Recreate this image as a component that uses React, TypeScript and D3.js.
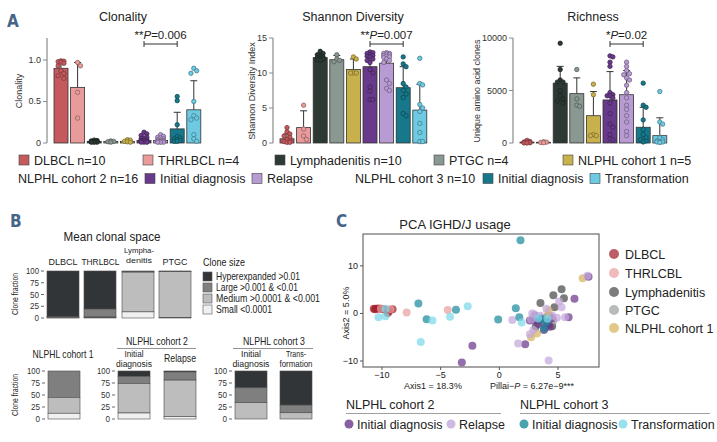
import React from 'react';
import * as d3 from 'd3';

const FONT = "'Liberation Sans', Arial, Helvetica, sans-serif";
const LETTER_FONT = "'Liberation Sans Narrow', 'DejaVu Sans Condensed', 'Liberation Sans', sans-serif";
const LETTER_COLOR = '#46658a';

// ---------------- Panel A data ----------------
const groupNames = ['DLBCL', 'THRLBCL', 'Lymphadenitis', 'PTGC', 'NLPHL cohort 1', 'NLPHL2 Initial diagnosis', 'NLPHL2 Relapse', 'NLPHL3 Initial diagnosis', 'NLPHL3 Transformation'];
const groupColors = ['#c45a5e', '#e89b9a', '#2c3a33', '#899891', '#c8b04c', '#693a8b', '#b89bd2', '#16788a', '#6dcae2'];

const clonalityMean = [0.9, 0.67, 0.02, 0.02, 0.02, 0.03, 0.03, 0.17, 0.4];
const clonalitySdTop = [0.97, 0.97, 0.03, 0.025, 0.03, 0.06, 0.055, 0.37, 0.75];
const clonalityPoints = [
  [0.99, 0.985, 0.98, 0.975, 0.96, 0.93, 0.87, 0.84, 0.81, 0.78],
  [0.97, 0.93, 0.61, 0.3],
  [0.035, 0.03, 0.025, 0.02, 0.02, 0.015, 0.015, 0.01, 0.01, 0.01],
  [0.025, 0.02, 0.015, 0.01],
  [0.04, 0.035, 0.02, 0.015, 0.01],
  [0.13, 0.11, 0.09, 0.07, 0.06, 0.05, 0.04, 0.035, 0.03, 0.025, 0.02, 0.02, 0.015, 0.01, 0.01, 0.01],
  [0.1, 0.08, 0.07, 0.06, 0.05, 0.04, 0.035, 0.03, 0.025, 0.02, 0.02, 0.015, 0.015, 0.01, 0.01, 0.01],
  [0.56, 0.51, 0.22, 0.08, 0.06, 0.05, 0.04, 0.03, 0.02, 0.02],
  [0.9, 0.87, 0.84, 0.5, 0.33, 0.3, 0.28, 0.1, 0.05, 0.02],
];

const shannonMean = [0.6, 2.2, 12.2, 11.9, 10.5, 10.9, 11.4, 7.9, 4.7];
const shannonSdTop = [1.3, 4.6, 12.8, 12.5, 12.0, 12.9, 12.9, 10.9, 8.4];
const shannonPoints = [
  [2.2, 1.6, 1.3, 1.0, 0.8, 0.5, 0.3, 0.2, 0.1, 0.1],
  [5.4, 2.0, 1.0, 0.5],
  [13.1, 12.8, 12.6, 12.4, 12.3, 12.2, 12.1, 12.0, 11.9, 11.8],
  [12.6, 12.0, 11.8, 11.6],
  [12.3, 12.0, 10.0, 10.0, 10.0],
  [13.0, 12.9, 12.8, 12.6, 12.5, 12.4, 12.3, 12.0, 11.8, 11.5, 10.5, 10.0, 8.0, 7.4, 6.2, 6.2],
  [12.9, 12.8, 12.8, 12.7, 12.6, 12.5, 12.4, 12.3, 12.2, 12.0, 11.8, 11.5, 9.0, 8.5, 7.8, 7.5],
  [12.3, 11.3, 10.9, 8.5, 8.0, 7.5, 7.0, 6.5, 4.2, 3.9],
  [12.1, 8.5, 8.3, 5.5, 5.0, 4.5, 2.8, 1.5, 0.2, 0.2],
];

const richnessMean = [90, 70, 5700, 4700, 2600, 4100, 4600, 1500, 700];
const richnessSdTop = [180, 130, 7300, 6200, 4900, 6800, 6900, 3400, 2400];
const richnessPoints = [
  [250, 150, 100, 80, 60, 40, 30, 20, 10, 10],
  [120, 80, 50, 30],
  [9500, 7000, 6000, 5800, 5800, 5000, 4500, 4200, 4000, 3800],
  [7000, 4200, 3600, 3500],
  [5600, 4600, 800, 700, 700],
  [8300, 8200, 7700, 7300, 4800, 4600, 4500, 4500, 4300, 3800, 2800, 1800, 1500, 800, 400, 300],
  [7700, 7300, 6900, 6600, 6500, 6200, 6000, 5500, 4800, 4300, 3600, 3200, 2600, 2000, 1100, 700],
  [5700, 3600, 3400, 2200, 1300, 800, 500, 300, 200, 100],
  [4900, 2000, 1800, 500, 300, 200, 100, 100, 100, 50],
];

const legendRow1 = ['DLBCL n=10', 'THRLBCL n=4', 'Lymphadenitis n=10', 'PTGC n=4', 'NLPHL cohort 1 n=5'];
const legendRow2Headers = ['NLPHL cohort 2 n=16', 'NLPHL cohort 3 n=10'];
const legendRow2Items = ['Initial diagnosis', 'Relapse', 'Initial diagnosis', 'Transformation'];

// ---------------- Panel B data ----------------
const cloneSizeLabels = ['Hyperexpanded >0.01', 'Large >0.001 & <0.01', 'Medium >0.0001 & <0.001', 'Small <0.0001'];
const cloneSizeColors = ['#323537', '#7f7f7f', '#bdbdbd', '#f0f0f0'];
const spaceGroups = ['DLBCL', 'THRLBCL', 'Lymphadenitis', 'PTGC', 'NLPHL cohort 1', 'C2 Initial diagnosis', 'C2 Relapse', 'C3 Initial diagnosis', 'C3 Transformation'];
const hyperFrac = [96.5, 81, 1, 0.5, 0, 11, 2, 35, 71];
const largeFrac = [1.5, 16, 1.5, 1, 55, 15, 17, 31, 16];
const mediumFrac = [1.5, 2, 84.5, 97.5, 33, 61.5, 76, 34, 13];
const smallFrac = [0.5, 1, 13, 1, 12, 12.5, 5, 0, 0];
const fractionTicks = [0, 25, 50, 75, 100];

// ---------------- Panel C data ----------------
const pcaGroups = ['DLBCL', 'THRLCBL', 'Lymphadenitis', 'PTGC', 'NLPHL cohort 1', 'C2 Initial diagnosis', 'C2 Relapse', 'C3 Initial diagnosis', 'C3 Transformation'];
const pcaColors = ['#a3202d', '#e9a19f', '#4a4a4a', '#9da1a1', '#d8b45a', '#6b378c', '#c3a6db', '#1d8b9d', '#7ddaea'];
const pcaDLBCL = [[-10.7, 1], [-10.5, 1], [-10.3, 1.05], [-10.1, 1], [-9.9, 0.9], [-9.6, 0.8], [-9.4, 0.5], [-9.1, 0.9], [-10.6, 0.9], [-9.5, 0.1]];
const pcaTHRLCBL = [[-10.1, 1.0], [-7.9, 0.2], [-4.4, 0.7], [-9.3, 0.9]];
const pcaLymph = [[3.5, 2.2], [4.6, 3.8], [5.3, 5.1], [5.5, 3.2], [4.7, 1.3], [3.1, -2.8], [4.5, -2.7], [4.0, -1.0], [3.6, -1.8], [4.2, -2.4]];
const pcaPTGC = [[3.2, -1.0], [4.1, -0.5], [3.7, -2.2], [4.6, -1.5]];
const pcaNLPHL1 = [[7.1, 7.4], [2.7, -5.0], [3.2, -4.2], [4.2, 0.6], [4.3, -0.6]];
const pcaC2Initial = [[-3.2, -10.3], [-2.3, -6.8], [2.2, -6.5], [6.4, 3.1], [5.9, -0.8], [7.6, 7.7], [2.9, -1.4], [3.3, -2.2], [3.8, -3.5], [4.1, -2.0], [4.5, -1.0], [3.0, -0.5], [3.9, -3.0], [4.3, -2.8], [3.5, -1.0], [2.6, -1.5]];
const pcaC2Relapse = [[1.1, -1.4], [1.6, -6.3], [4.2, -9.9], [7.5, 7.9], [5.1, 2.5], [5.3, 1.3], [4.9, -0.9], [2.6, -4.4], [3.0, -0.2], [2.7, -1.3], [3.5, -0.5], [4.0, 1.0], [4.5, -0.5], [2.9, -3.5], [5.6, -0.8], [2.8, 0.0]];
const pcaC3Initial = [[1.8, 15.4], [-6.9, 2.1], [-6.2, -1.2], [-3.7, 0.8], [-0.1, -1.3], [1.4, 1.1], [1.7, -0.8], [3.8, -3.2], [3.6, -1.2], [4.0, -1.8]];
const pcaC3Transf = [[-10.3, -0.8], [-9.7, -0.6], [-9.7, 1.0], [-6.7, -6.0], [-5.7, -1.5], [-4.2, -0.7], [-2.7, 1.5], [1.9, -1.9], [3.3, -1.0], [4.1, -1.1]];
const pcaSeries = [pcaDLBCL, pcaTHRLCBL, pcaLymph, pcaPTGC, pcaNLPHL1, pcaC2Initial, pcaC2Relapse, pcaC3Initial, pcaC3Transf];
const pcaXTicks = [-10, -5, 0, 5];
const pcaYTicks = [-10, 0, 10];

// ---------------- helpers ----------------
function swarm(vals: number[], y: (v: number) => number, r: number, maxOff: number) {
  const items = vals.map((v) => ({ v, py: y(v), dx: 0 }));
  items.sort((a, b) => a.py - b.py);
  const placed: { v: number; py: number; dx: number }[] = [];
  const step = r * 1.3;
  for (const it of items) {
    const cands = [0];
    for (let i = 1; i * step <= maxOff + 0.01; i++) cands.push(i * step, -i * step);
    let best = 0;
    let bestD = -1;
    for (const c of cands) {
      let minD = Infinity;
      for (const q of placed) {
        const d = Math.hypot(q.dx - c, q.py - it.py);
        if (d < minD) minD = d;
      }
      if (minD >= 2 * r * 0.9) { best = c; bestD = minD; break; }
      if (minD > bestD) { bestD = minD; best = c; }
    }
    it.dx = best;
    placed.push(it);
  }
  return placed;
}

// condensed text helper (panel B uses a narrow face in the reference)
function NT({ x, y, len, size, anchor = 'start', children }: { x: number; y: number; len: number; size: number; anchor?: string; children: string }) {
  return (
    <text x={x} y={y} fontSize={size} textAnchor={anchor as any} textLength={len} lengthAdjust="spacingAndGlyphs">{children}</text>
  );
}

type BarPanelProps = {
  axisX: number; yTop: number; ticks: number[]; fmt: (v: number) => string;
  title: string; titleX: number; ylabel: string; ylabelX: number;
  means: number[]; sdTops: number[]; points: number[][];
  stars: string; pval: string;
};

function BarPanel(p: BarPanelProps) {
  const y0 = 143, y1 = 38;
  const y = d3.scaleLinear().domain([0, p.yTop]).range([y0, y1]);
  const x = d3.scalePoint<string>().domain(groupNames).range([p.axisX + 14, p.axisX + 14 + 8 * 16.6]);
  const bw = 14;
  const r = 2.2;
  const bx1 = x(groupNames[5])!, bx2 = x(groupNames[7])!;
  return (
    <g fontFamily={FONT}>
      <text x={p.titleX} y={21} textAnchor="middle" fontSize={12.5} fill="#222">{p.title}</text>
      <line x1={p.axisX} x2={p.axisX} y1={y1} y2={y0} stroke="#8a8a8a" strokeWidth={1.2} />
      {p.ticks.map((t) => (
        <g key={t}>
          <line x1={p.axisX - 4} x2={p.axisX} y1={y(t)} y2={y(t)} stroke="#8a8a8a" strokeWidth={1} />
          <text x={p.axisX - 6} y={y(t) + 3} textAnchor="end" fontSize={9} fill="#333">{p.fmt(t)}</text>
        </g>
      ))}
      <text transform={`translate(${p.ylabelX},${91}) rotate(-90)`} textAnchor="middle" fontSize={9} fill="#333">{p.ylabel}</text>
      {groupNames.map((g, i) => {
        const cx = x(g)!;
        const col = groupColors[i];
        const pts = swarm(p.points[i], y, r, 5);
        const dark = d3.color(col)!.darker(1.3).formatHex();
        return (
          <g key={g}>
            <line x1={cx} x2={cx} y1={y(p.means[i])} y2={y(p.sdTops[i])} stroke="#333" strokeWidth={1} />
            <line x1={cx - 3.5} x2={cx + 3.5} y1={y(p.sdTops[i])} y2={y(p.sdTops[i])} stroke="#333" strokeWidth={1} />
            <rect x={cx - bw / 2} y={y(p.means[i])} width={bw} height={y0 - y(p.means[i])} fill={col} stroke="#333" strokeWidth={0.8} />
            {pts.map((pt, k) => (
              <circle key={k} cx={cx + pt.dx} cy={pt.py} r={r} fill={col} stroke={dark} strokeWidth={0.8} />
            ))}
          </g>
        );
      })}
      <line x1={bx1} x2={bx2} y1={44} y2={44} stroke="#333" strokeWidth={1} />
      <line x1={bx1} x2={bx1} y1={41} y2={47} stroke="#333" strokeWidth={1} />
      <line x1={bx2} x2={bx2} y1={41} y2={47} stroke="#333" strokeWidth={1} />
      <text x={(bx1 + bx2) / 2} y={39} textAnchor="middle" fontSize={11.5} fill="#222">
        {p.stars}<tspan fontStyle="italic">P</tspan>{'=' + p.pval}
      </text>
    </g>
  );
}

function LegendA() {
  const row1Sq = [19, 143, 275, 434, 563];
  const row2HeaderX = [18, 355];
  const row2Sq = [145, 252, 483, 590];
  const row2Col = [groupColors[5], groupColors[6], groupColors[7], groupColors[8]];
  const fs = 12.5;
  return (
    <g fontFamily={FONT} fontSize={fs} fill="#222">
      {legendRow1.map((t, i) => (
        <g key={t}>
          <rect x={row1Sq[i]} y={155} width={10} height={10} fill={groupColors[i]} stroke="#444" strokeWidth={0.6} />
          <text x={row1Sq[i] + 15} y={164.5}>{t}</text>
        </g>
      ))}
      {legendRow2Headers.map((t, i) => (
        <text key={t} x={row2HeaderX[i]} y={183}>{t}</text>
      ))}
      {legendRow2Items.map((t, i) => (
        <g key={i}>
          <rect x={row2Sq[i]} y={173.5} width={10} height={10} fill={row2Col[i]} stroke="#444" strokeWidth={0.6} />
          <text x={row2Sq[i] + 15} y={183}>{t}</text>
        </g>
      ))}
    </g>
  );
}

function StackedBar({ idx, x, y }: { idx: number; x: number; y: d3.ScaleLinear<number, number> }) {
  const vals = [hyperFrac[idx], largeFrac[idx], mediumFrac[idx], smallFrac[idx]];
  const w = 32;
  let top = 100;
  const segs = vals.map((v, k) => {
    const s = { k, y1: y(top), y2: y(top - v) };
    top -= v;
    return s;
  });
  return (
    <g>
      {segs.filter((s) => s.y2 - s.y1 > 0).map((s) => (
        <rect key={s.k} x={x} y={s.y1} width={w} height={s.y2 - s.y1} fill={cloneSizeColors[s.k]} stroke="#4a4a4a" strokeWidth={0.6} />
      ))}
    </g>
  );
}

function FracAxis({ x, y }: { x: number; y: d3.ScaleLinear<number, number> }) {
  return (
    <g fontFamily={FONT} fontSize={9} fill="#333">
      {fractionTicks.map((t) => (
        <g key={t}>
          <line x1={x - 4} x2={x - 1} y1={y(t)} y2={y(t)} stroke="#444" strokeWidth={0.8} />
          <text x={x - 6} y={y(t) + 3} textAnchor="end" textLength={t === 100 ? 13 : t === 0 ? 4.5 : 9} lengthAdjust="spacingAndGlyphs">{t}</text>
        </g>
      ))}
    </g>
  );
}

function PanelB() {
  const yTop = d3.scaleLinear().domain([0, 100]).range([318, 271]);
  const yBot = d3.scaleLinear().domain([0, 100]).range([419, 371]);
  const topX = [47, 84, 122, 159];
  const botX = [48, 118, 164, 235, 280];
  const fs = 10.5;
  const fsTop = 9.5;
  const fs2 = 9.2;
  const l1 = 356.5, l2 = 367;
  return (
    <g fontFamily={FONT} fill="#222">
      <NT x={112} y={241} len={97} size={13} anchor="middle">Mean clonal space</NT>
      <NT x={63} y={265} len={29} size={fsTop} anchor="middle">DLBCL</NT>
      <NT x={100.5} y={265} len={38} size={fsTop} anchor="middle">THRLBCL</NT>
      <NT x={139} y={253} len={30} size={8} anchor="middle">Lympha-</NT>
      <NT x={139} y={262.5} len={26} size={8} anchor="middle">denitis</NT>
      <NT x={175} y={265} len={25} size={fsTop} anchor="middle">PTGC</NT>
      {topX.map((x, i) => <StackedBar key={i} idx={i} x={x} y={yTop} />)}
      <FracAxis x={45} y={yTop} />
      <g transform="translate(18,294) rotate(-90)"><NT x={0} y={0} len={42} size={9} anchor="middle">Clone fraction</NT></g>

      <NT x={203} y={266} len={42} size={11}>Clone size</NT>
      {cloneSizeLabels.map((l, i) => {
        const lens = [84, 82, 104, 56];
        return (
          <g key={l}>
            <rect x={203} y={272 + i * 11} width={9} height={9} fill={cloneSizeColors[i]} stroke="#555" strokeWidth={0.6} />
            <NT x={216} y={280 + i * 11} len={lens[i]} size={10.5}>{l}</NT>
          </g>
        );
      })}

      <NT x={63} y={358} len={61} size={fs} anchor="middle">NLPHL cohort 1</NT>
      <NT x={157} y={345} len={62} size={fs} anchor="middle">NLPHL cohort 2</NT>
      <line x1={117} x2={196} y1={348.5} y2={348.5} stroke="#777" strokeWidth={0.8} />
      <NT x={274} y={345} len={62} size={fs} anchor="middle">NLPHL cohort 3</NT>
      <line x1={233} x2={313} y1={348.5} y2={348.5} stroke="#777" strokeWidth={0.8} />
      <NT x={134} y={l1} len={19} size={fs2} anchor="middle">Initial</NT>
      <NT x={134} y={l2} len={36} size={fs2} anchor="middle">diagnosis</NT>
      <NT x={180} y={362} len={32} size={fs} anchor="middle">Relapse</NT>
      <NT x={251} y={l1} len={20} size={fs2} anchor="middle">Initial</NT>
      <NT x={251} y={l2} len={37} size={fs2} anchor="middle">diagnosis</NT>
      <NT x={296} y={l1} len={20} size={fs2} anchor="middle">Trans-</NT>
      <NT x={296} y={l2} len={33} size={fs2} anchor="middle">formation</NT>
      {botX.map((x, i) => <StackedBar key={i} idx={4 + i} x={x} y={yBot} />)}
      <FracAxis x={46} y={yBot} />
      <FracAxis x={116} y={yBot} />
      <FracAxis x={233} y={yBot} />
      <g transform="translate(18,395) rotate(-90)"><NT x={0} y={0} len={42} size={9} anchor="middle">Clone fraction</NT></g>
    </g>
  );
}

function PanelC() {
  const x = d3.scaleLinear().domain([-11.62, 8.49]).range([363, 599]);
  const y = d3.scaleLinear().domain([-11.26, 16.7]).range([367, 234]);
  const legendY = [254, 273, 292, 310, 328];
  return (
    <g fontFamily={FONT} fill="#222">
      <text x={455} y={229} textAnchor="middle" fontSize={13}>PCA IGHD/J usage</text>
      {pcaSeries.map((s, gi) => (
        <g key={gi}>
          {s.map((d, k) => (
            <circle key={k} cx={x(d[0])} cy={y(d[1])} r={4} fill={pcaColors[gi]} fillOpacity={0.72} />
          ))}
        </g>
      ))}
      <rect x={363} y={234} width={236} height={133} fill="none" stroke="#6a6a6a" strokeWidth={1.2} />
      {pcaXTicks.map((t) => (
        <g key={t}>
          <line x1={x(t)} x2={x(t)} y1={367} y2={370} stroke="#555" />
          <text x={x(t)} y={378} textAnchor="middle" fontSize={9}>{t < 0 ? '\u2212' + Math.abs(t) : t}</text>
        </g>
      ))}
      {pcaYTicks.map((t) => (
        <g key={t}>
          <line x1={360} x2={363} y1={y(t)} y2={y(t)} stroke="#555" />
          <text x={358} y={y(t) + 3} textAnchor="end" fontSize={9}>{t < 0 ? '\u2212' + Math.abs(t) : t}</text>
        </g>
      ))}
      <text transform="translate(349,313) rotate(-90)" textAnchor="middle" fontSize={9}>Axis2 = 5.0%</text>
      <text x={433} y={389} textAnchor="middle" fontSize={9}>Axis1 = 18.3%</text>
      <text x={532} y={389} textAnchor="middle" fontSize={9}>
        {'Pillai\u2212'}<tspan fontStyle="italic">P</tspan>{' = 6.27e\u22129***'}
      </text>
      {pcaGroups.slice(0, 5).map((g, i) => (
        <g key={g}>
          <circle cx={614} cy={legendY[i]} r={5} fill={pcaColors[i]} fillOpacity={0.72} />
          <text x={625} y={legendY[i] + 4.5} fontSize={12.5}>{g}</text>
        </g>
      ))}
      <text x={346} y={409} fontSize={12.5}>NLPHL cohort 2</text>
      <line x1={346} x2={501} y1={413.5} y2={413.5} stroke="#888" strokeWidth={0.8} />
      <text x={520} y={409} fontSize={12.5}>NLPHL cohort 3</text>
      <line x1={520} x2={710} y1={413.5} y2={413.5} stroke="#888" strokeWidth={0.8} />
      {[
        { cx: 349, label: 'Initial diagnosis', c: 5 },
        { cx: 451, label: 'Relapse', c: 6 },
        { cx: 524, label: 'Initial diagnosis', c: 7 },
        { cx: 623, label: 'Transformation', c: 8 },
      ].map((it, i) => (
        <g key={i}>
          <circle cx={it.cx} cy={424} r={4.5} fill={pcaColors[it.c]} fillOpacity={0.8} />
          <text x={it.cx + 8} y={428.5} fontSize={12.5}>{it.label}</text>
        </g>
      ))}
    </g>
  );
}

export default function App() {
  return (
    <svg width={717} height={442} style={{ position: 'absolute', left: 0, top: 0, background: '#fff' }}>
      <rect width={717} height={442} fill="#fff" />
      <g fontFamily={LETTER_FONT} fontWeight="bold" fill={LETTER_COLOR} fontSize={17}>
        <text x={7} y={27}>A</text>
        <text x={10} y={227}>B</text>
        <text x={336} y={227}>C</text>
      </g>
      <BarPanel axisX={47} yTop={1.265} ticks={[0, 0.5, 1.0]} fmt={(v) => (v === 0 ? '0' : d3.format('.1f')(v))}
        title="Clonality" titleX={123} ylabel="Clonality" ylabelX={22}
        means={clonalityMean} sdTops={clonalitySdTop} points={clonalityPoints} stars="**" pval="0.006" />
      <BarPanel axisX={273} yTop={15} ticks={[0, 5, 10, 15]} fmt={(v) => String(v)}
        title="Shannon Diversity" titleX={353} ylabel="Shannon Diversity Index" ylabelX={255}
        means={shannonMean} sdTops={shannonSdTop} points={shannonPoints} stars="**" pval="0.007" />
      <BarPanel axisX={513} yTop={10000} ticks={[0, 5000, 10000]} fmt={(v) => String(v)}
        title="Richness" titleX={593} ylabel="Unique amino acid clones" ylabelX={480}
        means={richnessMean} sdTops={richnessSdTop} points={richnessPoints} stars="*" pval="0.02" />
      <LegendA />
      <PanelB />
      <PanelC />
    </svg>
  );
}
